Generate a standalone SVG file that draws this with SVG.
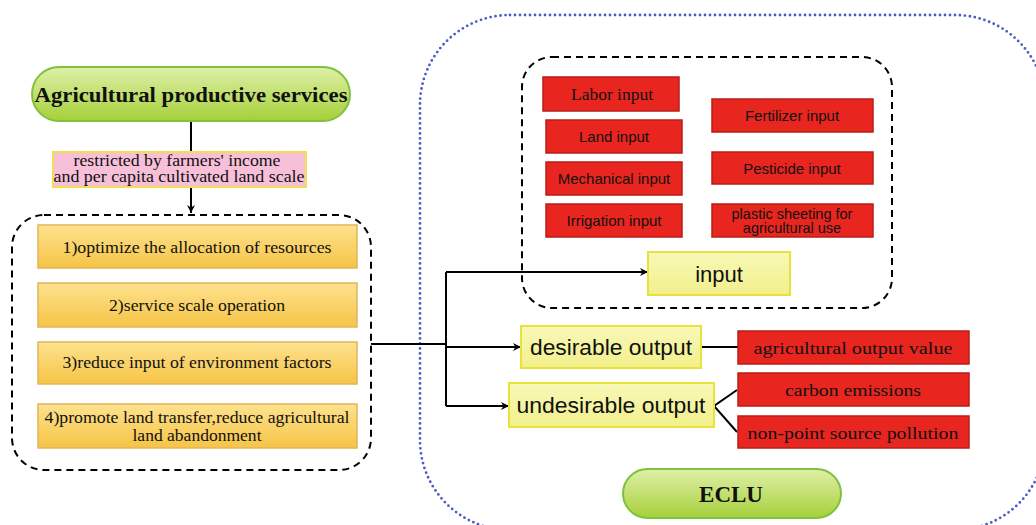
<svg xmlns="http://www.w3.org/2000/svg" width="1036" height="525" viewBox="0 0 1036 525">
<defs>
<linearGradient id="gGreen" x1="0" y1="0" x2="0" y2="1"><stop offset="0" stop-color="#dff0a8"/><stop offset="1" stop-color="#a6d03a"/></linearGradient>
<linearGradient id="gOrange" x1="0" y1="0" x2="0" y2="1"><stop offset="0" stop-color="#fde28e"/><stop offset="1" stop-color="#f6c446"/></linearGradient>
<linearGradient id="gYellow" x1="0" y1="0" x2="0" y2="1"><stop offset="0" stop-color="#f8f8b8"/><stop offset="1" stop-color="#f2f08a"/></linearGradient>
<marker id="arr" viewBox="0 0 10 10" refX="10" refY="5" markerWidth="9" markerHeight="8" orient="auto" markerUnits="userSpaceOnUse">
<path d="M0,0 L10,5 L0,10 L3,5 Z" fill="#000"/>
</marker>
<style>
.pill{fill:url(#gGreen);stroke:#7ec23e;stroke-width:2}
.orange{fill:url(#gOrange);stroke:#e2b55a;stroke-width:1.5}
.yellow{fill:url(#gYellow);stroke:#e8e23a;stroke-width:2}
.red{fill:#e8261f;stroke:#b81c18;stroke-width:1.5}
.pink{fill:#f7c0d8;stroke:#f0e050;stroke-width:2}
.serif{font-family:"Liberation Serif","Times New Roman",serif;fill:#111;text-anchor:middle}
.sans{font-family:"Liberation Sans",Arial,sans-serif;fill:#111;text-anchor:middle}
.line{stroke:#000;stroke-width:2;fill:none}
.dash{fill:none;stroke:#000;stroke-width:2;stroke-dasharray:7 5}
</style>
</defs>
<rect width="1036" height="525" fill="#fff"/>

<rect id="eclu-region" x="420" y="15" width="625" height="515" rx="90" fill="none" stroke="#4a5cc4" stroke-width="2.8" stroke-dasharray="0 5" stroke-linecap="round"/>
<rect id="service-group" x="12" y="215" width="359" height="255" rx="32" class="dash"/>
<rect id="input-group" x="522" y="57" width="370" height="251" rx="30" class="dash"/>

<g id="connectors">
<line x1="191" y1="121" x2="191" y2="152" class="line"/>
<line x1="191" y1="187" x2="191" y2="213" class="line" marker-end="url(#arr)"/>
<polyline points="371,344 446,344" class="line"/>
<polyline points="446,272 446,406" class="line"/>
<line x1="446" y1="272" x2="648" y2="272" class="line" marker-end="url(#arr)"/>
<line x1="446" y1="347" x2="521" y2="347" class="line" marker-end="url(#arr)"/>
<line x1="446" y1="406" x2="509" y2="406" class="line" marker-end="url(#arr)"/>
<line x1="701" y1="347" x2="738" y2="347" class="line"/>
<polyline points="737,390 714,406 737,432" class="line"/>
</g>

<g id="ag-services">
<rect x="32" y="67" width="318" height="54" rx="27" class="pill"/>
<text x="191" y="102" class="serif" font-size="22" font-weight="bold" textLength="313" lengthAdjust="spacingAndGlyphs">Agricultural productive services</text>
</g>
<g id="restricted">
<rect x="53" y="152" width="253" height="35" class="pink"/>
<text x="177" y="166" class="serif" font-size="16" textLength="207" lengthAdjust="spacingAndGlyphs">restricted by farmers' income</text>
<text x="179" y="182" class="serif" font-size="16" textLength="251" lengthAdjust="spacingAndGlyphs">and per capita cultivated land scale</text>
</g>
<g id="s1"><rect x="38" y="225" width="319" height="43" class="orange"/><text x="197" y="253" class="serif" font-size="16.5" textLength="269" lengthAdjust="spacingAndGlyphs">1)optimize the allocation of resources</text></g>
<g id="s2"><rect x="38" y="283" width="319" height="44" class="orange"/><text x="197" y="311" class="serif" font-size="16.5" textLength="176" lengthAdjust="spacingAndGlyphs">2)service scale operation</text></g>
<g id="s3"><rect x="38" y="342" width="319" height="42" class="orange"/><text x="197" y="368" class="serif" font-size="16.5" textLength="269" lengthAdjust="spacingAndGlyphs">3)reduce input of environment factors</text></g>
<g id="s4"><rect x="38" y="404" width="319" height="44" class="orange"/><text x="197" y="423" class="serif" font-size="16.5" textLength="305" lengthAdjust="spacingAndGlyphs">4)promote land transfer,reduce agricultural</text><text x="197" y="441" class="serif" font-size="16.5" textLength="129" lengthAdjust="spacingAndGlyphs">land abandonment</text></g>

<g id="labor"><rect x="543" y="77" width="136" height="34" class="red"/><text x="612" y="100" class="serif" font-size="16.5" textLength="82" lengthAdjust="spacingAndGlyphs">Labor input</text></g>
<g id="land"><rect x="546" y="120" width="136" height="33" class="red"/><text x="614" y="142" class="sans" font-size="15">Land input</text></g>
<g id="mech"><rect x="546" y="162" width="136" height="33" class="red"/><text x="614" y="184" class="sans" font-size="15">Mechanical input</text></g>
<g id="irr"><rect x="546" y="204" width="136" height="33" class="red"/><text x="614" y="226" class="sans" font-size="15">Irrigation input</text></g>
<g id="fert"><rect x="712" y="99" width="161" height="33" class="red"/><text x="792" y="121" class="sans" font-size="15">Fertilizer input</text></g>
<g id="pest"><rect x="712" y="152" width="161" height="32" class="red"/><text x="792" y="174" class="sans" font-size="15">Pesticide input</text></g>
<g id="plastic"><rect x="712" y="204" width="161" height="33" class="red"/><text x="792" y="219" class="sans" font-size="14.5">plastic sheeting for</text><text x="792" y="233" class="sans" font-size="14.5">agricultural use</text></g>

<g id="input"><rect x="648" y="252" width="142" height="43" class="yellow"/><text x="719" y="282" class="sans" font-size="22">input</text></g>
<g id="desirable"><rect x="521" y="326" width="180" height="42" class="yellow"/><text x="611" y="355" class="sans" font-size="22" textLength="162" lengthAdjust="spacingAndGlyphs">desirable output</text></g>
<g id="undesirable"><rect x="509" y="383" width="205" height="44" class="yellow"/><text x="611" y="413" class="sans" font-size="22" textLength="189" lengthAdjust="spacingAndGlyphs">undesirable output</text></g>

<g id="agvalue"><rect x="738" y="331" width="231" height="33" class="red"/><text x="853" y="354" class="serif" font-size="17.5" textLength="199" lengthAdjust="spacingAndGlyphs">agricultural output value</text></g>
<g id="carbon"><rect x="738" y="373" width="231" height="33" class="red"/><text x="853" y="396" class="serif" font-size="17.5" textLength="136" lengthAdjust="spacingAndGlyphs">carbon emissions</text></g>
<g id="nps"><rect x="738" y="416" width="231" height="32" class="red"/><text x="853" y="439" class="serif" font-size="17.5" textLength="211" lengthAdjust="spacingAndGlyphs">non-point source pollution</text></g>

<g id="eclu"><rect x="623" y="469" width="218" height="49" rx="24.5" class="pill"/><text x="731" y="502" class="serif" font-size="23" font-weight="bold">ECLU</text></g>
</svg>
